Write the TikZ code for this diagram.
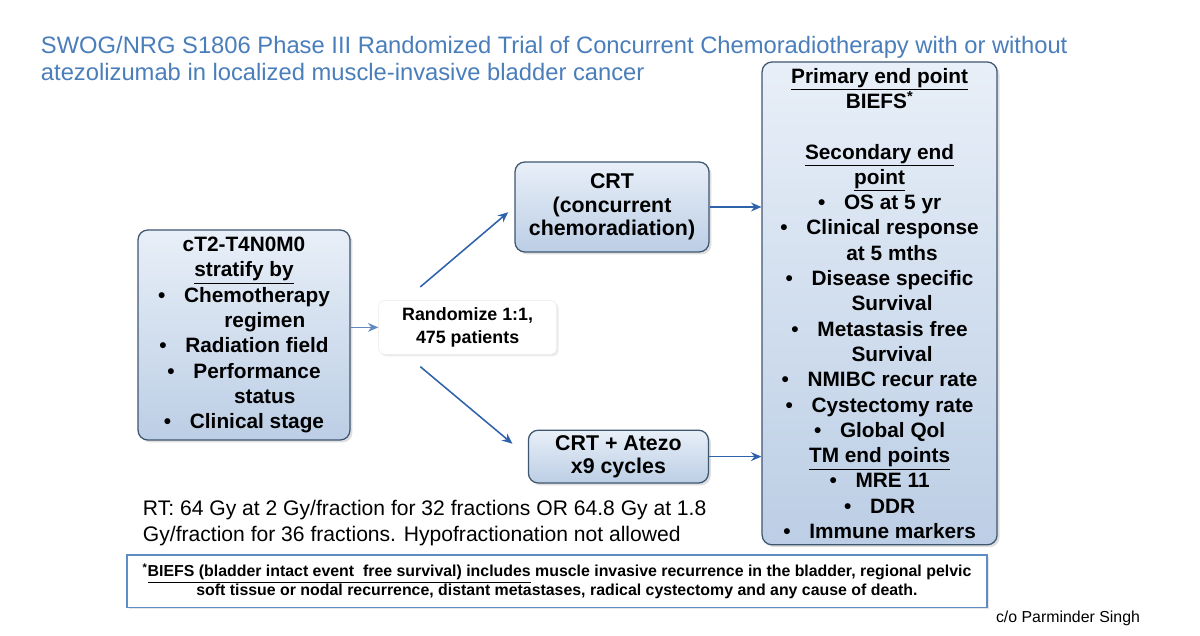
\documentclass[tikz,border=0pt]{standalone}
\usepackage{fontspec}
\setmainfont{Liberation Sans}
\usepackage{tikz}
\usetikzlibrary{arrows.meta,calc,positioning,shadows}
\definecolor{titleblue}{RGB}{74,126,187}
\definecolor{arrowblue}{RGB}{46,98,170}
\definecolor{boxedge}{RGB}{62,86,112}
\definecolor{boxtop}{RGB}{232,239,248}
\definecolor{boxbot}{RGB}{188,206,229}
\definecolor{noteedge}{RGB}{96,140,196}
\newcommand{\itm}{\textbullet\hspace{0.9em}}
\tikzset{
  armbox/.style={draw=boxedge, line width=0.9pt, rounded corners=7pt,
                 top color=boxtop, bottom color=boxbot,
                 drop shadow={opacity=0.25, shadow xshift=0.6mm, shadow yshift=-0.6mm},
                 inner sep=2pt, align=center,
                 font=\fontsize{15.2}{16.8}\selectfont\bfseries},
  listbox/.style={armbox, font=\fontsize{14.8}{18}\selectfont\bfseries},
  randbox/.style={draw=black!8, fill=white, rounded corners=4pt,
                  drop shadow={opacity=0.15, shadow xshift=0.5mm, shadow yshift=-0.5mm},
                  inner sep=2pt, align=center,
                  font=\fontsize{12.7}{16}\selectfont\bfseries},
  notebox/.style={draw=noteedge, line width=0.8pt, fill=white,
                  drop shadow={opacity=0.2, shadow xshift=0.4mm, shadow yshift=-0.4mm},
                  inner sep=2pt, align=center,
                  font=\fontsize{11.3}{12.3}\selectfont\bfseries},
  flow/.style={-{Stealth[length=2.6mm,width=2.2mm]}, arrowblue, line width=1.1pt},
  thinflow/.style={flow, line width=0.7pt, arrowblue!75},
}

\begin{document}
\begin{tikzpicture}[x=1cm,y=1cm]
  \path[use as bounding box, fill=white] (0,0) rectangle (30,15.875);

  \node[anchor=north west, align=left, text=titleblue,
        font=\fontsize{16.9}{19.3}\selectfont] (title) at (0.9,15.1)
    {SWOG/NRG S1806 Phase III Randomized Trial of Concurrent Chemoradiotherapy with or without\\
     atezolizumab in localized muscle-invasive bladder cancer};

  \node[listbox, minimum width=5.3cm, minimum height=5.25cm] (strat) at (6.1,7.5)
    {cT2-T4N0M0\\
     \underline{stratify by}\\
     \itm Chemotherapy\\
     \hspace*{2em}regimen\\
     \itm Radiation field\\
     \itm Performance\\
     \hspace*{2em}status\\
     \itm Clinical stage};

  \node[randbox, minimum width=4.45cm, minimum height=1.35cm] (rand) at (11.69,7.69)
    {Randomize 1:1,\\ 475 patients};

  \node[armbox, minimum width=4.85cm, minimum height=2.25cm] (crt) at (15.3,10.7)
    {CRT\\ (concurrent\\ chemoradiation)};
  \node[armbox, minimum width=4.5cm, minimum height=1.32cm] (atezo) at (15.46,4.46)
    {CRT + Atezo\\ x9 cycles};

  \node[listbox, minimum width=5.875cm, minimum height=12.07cm] (endpts) at (21.99,8.29)
    {\underline{Primary end point}\\
     BIEFS\textsuperscript{*}\\[18pt]
     \underline{Secondary end}\\
     \underline{point}\\
     \itm OS at 5 yr\\
     \itm Clinical response\\
     \hspace*{1.2em}at 5 mths\\
     \itm Disease specific\\
     \hspace*{1.2em}Survival\\
     \itm Metastasis free\\
     \hspace*{1.2em}Survival\\
     \itm NMIBC recur rate\\
     \itm Cystectomy rate\\
     \itm Global Qol\\
     \underline{TM end points}\\
     \itm MRE 11\\
     \itm DDR\\
     \itm Immune markers};

  % arms
  \coordinate (upstart) at ($(rand.north west)+(1.05,0.33)$);
  \coordinate (downstart) at ($(rand.south west)+(1.05,-0.3)$);
  \draw[thinflow] (rand.west -| strat.east) -- (rand.west);
  \draw[flow, shorten >=0.2cm] (upstart) -- (crt.west);
  \draw[flow, shorten >=0.5cm] (downstart) -- (atezo.west);
  \draw[flow] (crt.east) -- (crt.east -| endpts.west);
  \draw[flow] (atezo.east) -- (atezo.east -| endpts.west);

  \node[anchor=north west, align=left, font=\fontsize{15}{18.5}\selectfont] (rt) at (3.45,3.5)
    {RT: 64 Gy at 2 Gy/fraction for 32 fractions OR 64.8 Gy at 1.8\\
     Gy/fraction for 36 fractions. Hypofractionation not allowed};

  \node[notebox, minimum width=21.5cm, minimum height=1.32cm] (note) at (13.925,1.34)
    {\textsuperscript{*}\underline{BIEFS (bladder intact event\ \ free survival) includes} muscle invasive recurrence in the bladder, regional pelvic\\
     soft tissue or nodal recurrence, distant metastases, radical cystectomy and any cause of death.};

  \node[font=\fontsize{11.3}{13}\selectfont] (credit) at (26.7,0.42) {c/o Parminder Singh};
\end{tikzpicture}
\end{document}
